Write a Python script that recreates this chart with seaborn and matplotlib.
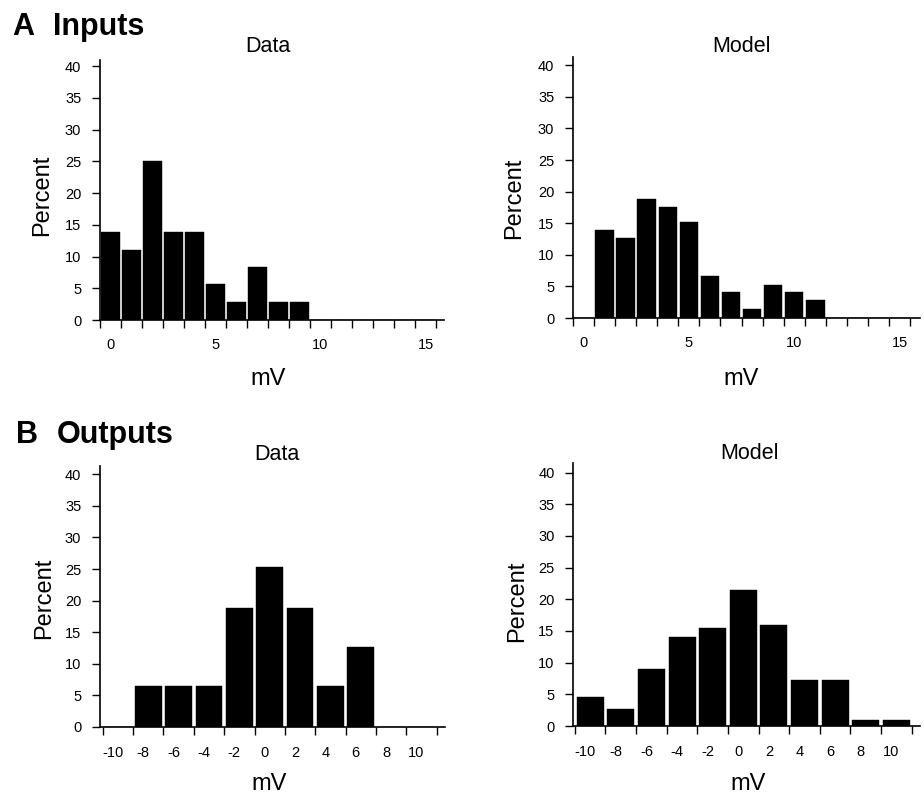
import numpy as np
import pandas as pd
import matplotlib
matplotlib.use("Agg")
import matplotlib.pyplot as plt
import matplotlib.transforms as mtransforms
import seaborn as sns

# ---------------- data (percent per bin) ----------------
in_data_mv = [0, 1, 2, 3, 4, 5, 6, 7, 8, 9]
in_data_pct = [13.9, 11.1, 25.1, 13.9, 13.9, 5.6, 2.8, 8.4, 2.8, 2.8]

in_model_mv = [1, 2, 3, 4, 5, 6, 7, 8, 9, 10, 11]
in_model_pct = [13.9, 12.6, 18.9, 17.5, 15.2, 6.6, 4.1, 1.5, 5.3, 4.1, 2.8]

out_data_mv = [-8, -6, -4, -2, 0, 2, 4, 6]
out_data_pct = [6.5, 6.5, 6.5, 18.9, 25.3, 18.9, 6.5, 12.7]

out_model_mv = [-10, -8, -6, -4, -2, 0, 2, 4, 6, 8, 10]
out_model_pct = [4.6, 2.7, 9.0, 14.1, 15.4, 21.5, 15.9, 7.3, 7.3, 0.9, 0.9]

in_tick_labels = ["0", "5", "10", "15"]
in_tick_pos = [0, 5, 10, 15]
out_tick_labels = ["-10", "-8", "-6", "-4", "-2", "0", "2", "4", "6", "8", "10"]
out_tick_pos = [-10, -8, -6, -4, -2, 0, 2, 4, 6, 8, 10]
y_ticks = [0, 5, 10, 15, 20, 25, 30, 35, 40]

# ---------------- style ----------------
sns.set_theme(style="ticks")
plt.rcParams["font.family"] = ["Liberation Sans", "DejaVu Sans"]
plt.rcParams["text.color"] = "black"
plt.rcParams["axes.labelcolor"] = "black"
plt.rcParams["xtick.color"] = "black"
plt.rcParams["ytick.color"] = "black"

W, H = 924, 795
fig = plt.figure(figsize=(W / 100, H / 100), dpi=100)


def add_axes_px(left, right, bottom, top):
    return fig.add_axes([left / W, 1 - bottom / H, (right - left) / W, (bottom - top) / H])


def draw_panel(ax, mv, pct, binwidth, binrange, xlim, ylim, tick_pos, tick_labels,
               label_pad, label_shift_px=0):
    df = pd.DataFrame({"mV": mv, "Percent": pct})
    sns.histplot(data=df, x="mV", weights="Percent", binwidth=binwidth, binrange=binrange,
                 shrink=0.88, color="black", alpha=1, edgecolor="black", linewidth=0.3, ax=ax)
    ax.set_xlim(*xlim)
    ax.set_ylim(*ylim)
    sns.despine(ax=ax)
    for s in ("left", "bottom"):
        ax.spines[s].set_linewidth(1.2)
        ax.spines[s].set_color("black")
    edges = np.arange(binrange[0], binrange[1] + binwidth / 2, binwidth)
    ax.set_yticks(y_ticks)
    ax.set_yticklabels([str(v) for v in y_ticks])
    ax.set_xticks(edges)
    ax.set_xticklabels([""] * len(edges))
    ax.set_xticks(tick_pos, minor=True)
    ax.set_xticklabels(tick_labels, minor=True)
    ax.tick_params(axis="y", which="major", direction="out", length=6, width=1,
                   pad=7.5, labelsize=10.5, colors="black")
    ax.tick_params(axis="x", which="major", direction="out", length=6, width=1,
                   colors="black")
    ax.tick_params(axis="x", which="minor", length=0, pad=label_pad,
                   labelsize=10.5, labelcolor="black")
    if label_shift_px:
        off = mtransforms.ScaledTranslation(label_shift_px / 100, 0, fig.dpi_scale_trans)
        for lbl in ax.xaxis.get_minorticklabels():
            lbl.set_transform(lbl.get_transform() + off)
    ax.set_xlabel("")
    ax.set_ylabel("")
    ax.set_facecolor("white")


axA1 = add_axes_px(100, 444, 320, 60)
draw_panel(axA1, in_data_mv, in_data_pct, 1, (-0.5, 15.5), (-0.5, 15.88), (0, 40.95),
           in_tick_pos, in_tick_labels, 13)
axA2 = add_axes_px(573, 920, 318, 57)
draw_panel(axA2, in_model_mv, in_model_pct, 1, (-0.5, 15.5), (-0.5, 15.97), (0, 41.3),
           in_tick_pos, in_tick_labels, 13)
axB1 = add_axes_px(100, 445, 727, 466)
draw_panel(axB1, out_data_mv, out_data_pct, 2, (-11, 11), (-11.18, 11.55), (0, 41.3),
           out_tick_pos, out_tick_labels, 14, -5)
axB2 = add_axes_px(573.3, 920, 726, 463)
draw_panel(axB2, out_model_mv, out_model_pct, 2, (-11, 11), (-11.1, 11.54), (0, 41.5),
           out_tick_pos, out_tick_labels, 14, -5)


def ftext(x, y, s, **kw):
    fig.text(x / W, 1 - y / H, s, color="black", **kw)


# panel letters / headers
ftext(12, 35, "A", fontsize=22, fontweight="bold", va="baseline", ha="left")
ftext(53, 35, "Inputs", fontsize=22, fontweight="bold", va="baseline", ha="left")
ftext(16, 443, "B", fontsize=22, fontweight="bold", va="baseline", ha="left")
ftext(57, 443, "Outputs", fontsize=22, fontweight="bold", va="baseline", ha="left")

# subplot titles
ftext(268, 52.5, "Data", fontsize=15.5, va="baseline", ha="center")
ftext(741.5, 52, "Model", fontsize=15.5, va="baseline", ha="center")
ftext(277, 460, "Data", fontsize=15.5, va="baseline", ha="center")
ftext(750, 459, "Model", fontsize=15.5, va="baseline", ha="center")

# y labels
for (x, y) in [(42.5, 195), (514, 198), (44, 598), (517, 601)]:
    ftext(x, y, "Percent", fontsize=17, rotation=90, va="center", ha="center")

# x labels
for (x, y) in [(268, 385), (741, 385), (269, 790), (748, 790)]:
    ftext(x, y, "mV", fontsize=17, va="baseline", ha="center")

fig.savefig("out.png", dpi=100, facecolor="white")
